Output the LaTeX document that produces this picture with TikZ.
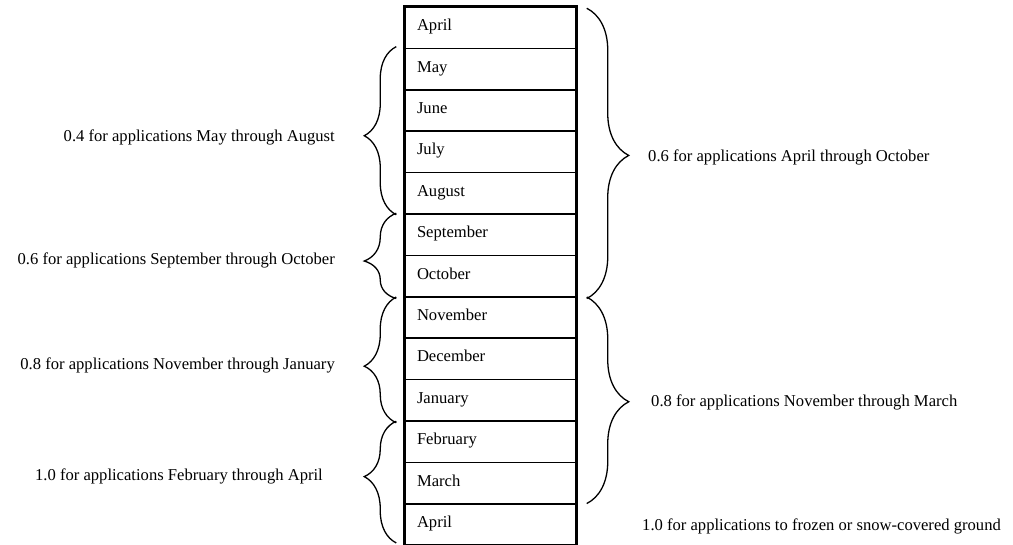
\documentclass[tikz,border=0pt]{standalone}
\usepackage{fontspec}
\setmainfont{Liberation Serif}
\usetikzlibrary{decorations.pathreplacing,calc}
\begin{document}
\begin{tikzpicture}[x=1pt,y=-1pt,
  txt/.style={font=\fontsize{16.6}{20}\selectfont},
  month/.style={txt, draw, line width=1.5pt, minimum width=171pt, minimum height=41.4pt,
    inner xsep=12pt, inner ysep=0pt, text width=147pt, align=left, text height=10pt, text depth=4pt},
  lab/.style={txt, inner sep=0pt},
  lbrace/.style={decorate, decoration={brace, amplitude=32pt, aspect=#1}, line width=1.3pt},
  rbrace/.style={decorate, decoration={brace, amplitude=42pt, aspect=#1}, line width=1.3pt},
  frame/.style={line width=3pt}]
\useasboundingbox (0,0) rectangle (1013,545);
\clip (0,0) rectangle (1013,545);
\foreach \t [count=\i] in {April,May,June,July,August,September,October,November,December,January,February,March,April}
  \node[month] (m\i) at (490.5,{7+41.4*(\i-0.5)}) {\t};
\draw[frame] ($(m13.south west)+(0,10)$) |- (m1.north east) -- ($(m13.south east)+(0,10)$);
% left braces
\draw[lbrace=0.47] ($(m5.south west)+(-8,0)$) -- ($(m2.north west)+(-8,-1)$);
\draw[lbrace=0.44] ($(m7.south west)+(-8,1)$) -- ($(m6.north west)+(-8,0)$);
\draw[lbrace=0.45] ($(m10.south west)+(-8,1)$) -- ($(m8.north west)+(-8,1)$);
\draw[lbrace=0.545] ($(m13.south west)+(-8,-3)$) -- ($(m11.north west)+(-8,1)$);
% right braces
\draw[rbrace=0.507] ($(m1.north east)+(10,2)$) -- ($(m7.south east)+(10,1)$);
\draw[rbrace=0.507] ($(m8.north east)+(10,1)$) -- ($(m12.south east)+(10,-1)$);
% labels
\node[lab, anchor=east] (l1) at (335,137) {0.4 for applications May through August};
\node[lab, anchor=east] (l2) at (335,260) {0.6 for applications September through October};
\node[lab, anchor=east] (l3) at (335,365) {0.8 for applications November through January};
\node[lab, anchor=east] (l4) at (323,476) {1.0 for applications February through April};
\node[lab, anchor=west] (r1) at (648,157) {0.6 for applications April through October};
\node[lab, anchor=west] (r2) at (651,402) {0.8 for applications November through March};
\node[lab, anchor=west] (r3) at (642,526) {1.0 for applications to frozen or snow-covered ground};
\end{tikzpicture}
\end{document}
